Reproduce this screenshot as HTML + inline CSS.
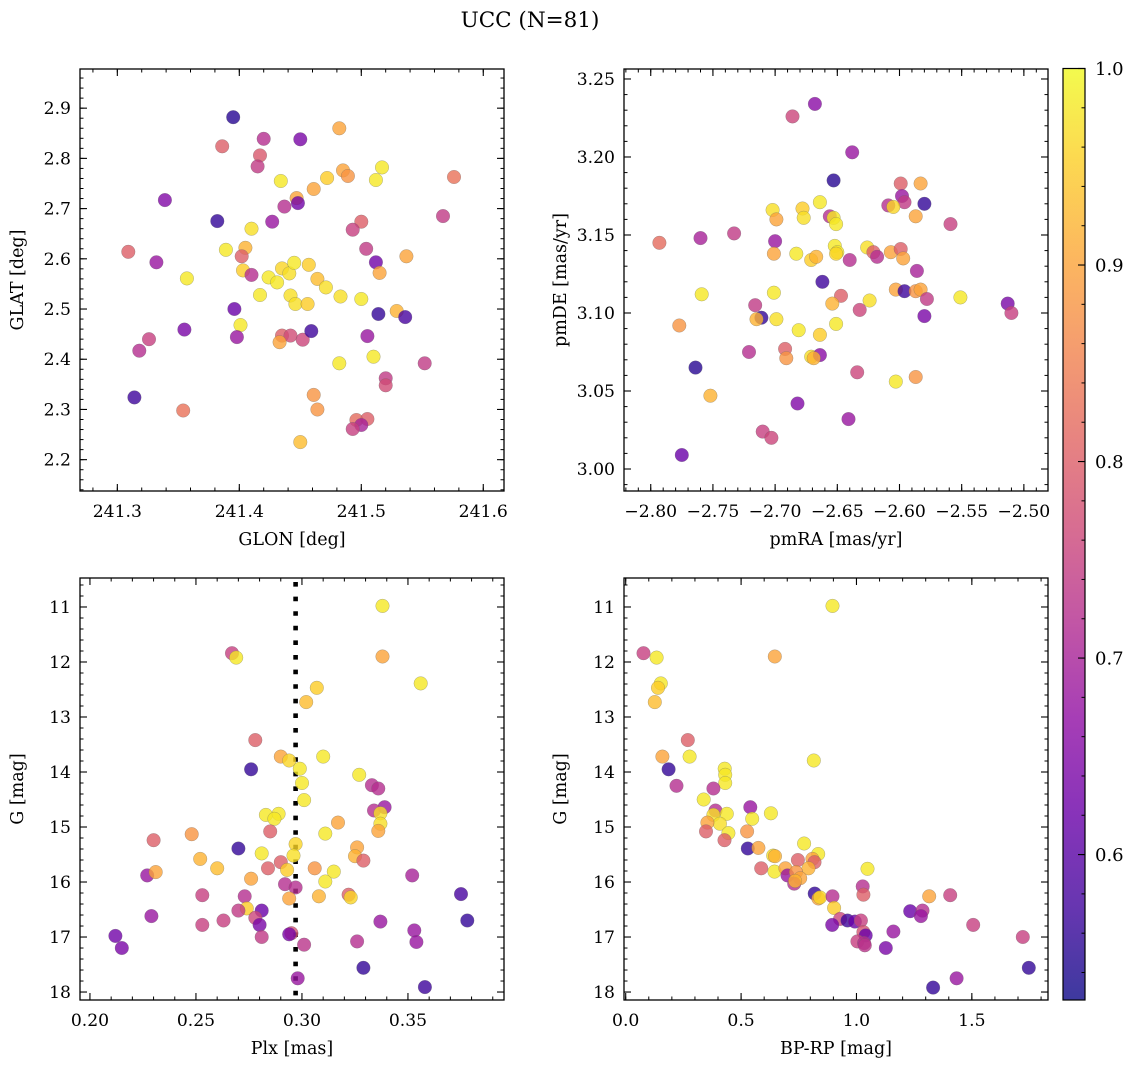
<!DOCTYPE html>
<html><head><meta charset="utf-8">
<style>
html,body{margin:0;padding:0;background:#fff;}
svg{display:block;font-family:"DejaVu Serif","Liberation Serif",serif;}
</style></head>
<body>
<svg id="fig" width="1136" height="1068" viewBox="0 0 1136 1068" xmlns="http://www.w3.org/2000/svg">
<defs>
<linearGradient id="plasma" x1="0" y1="1" x2="0" y2="0"></linearGradient>
</defs>
<text x="530" y="27" font-size="21.5" text-anchor="middle">UCC (N=81)</text>
</svg>
<script>
// ---- data: panel 1 (GLON vs GLAT)
const p1Glon = [241.395,241.482,241.420,241.450,241.386,241.417,241.415,241.517,241.485,241.489,241.576,241.434,241.472,241.512,241.461,241.339,241.447,241.448,241.437,241.382,241.427,241.567,241.500,241.493,241.410,241.309,241.389,241.405,241.402,241.504,241.537,241.332,241.512,241.515,241.403,241.410,241.357,241.424,241.431,241.435,241.441,241.445,241.457,241.464,241.471,241.417,241.442,241.446,241.456,241.483,241.500,241.396,241.514,241.529,241.536,241.355,241.401,241.398,241.326,241.318,241.435,241.442,241.433,241.452,241.459,241.505,241.482,241.510,241.552,241.520,241.520,241.314,241.354,241.461,241.464,241.496,241.505,241.500,241.493,241.450];
const p1Glat = [2.882,2.860,2.839,2.838,2.824,2.806,2.784,2.782,2.776,2.765,2.763,2.755,2.761,2.757,2.739,2.717,2.721,2.711,2.704,2.675,2.674,2.685,2.674,2.658,2.660,2.614,2.618,2.622,2.605,2.620,2.605,2.593,2.593,2.572,2.577,2.568,2.561,2.563,2.553,2.581,2.571,2.592,2.588,2.560,2.543,2.528,2.527,2.510,2.510,2.525,2.520,2.500,2.490,2.496,2.484,2.459,2.468,2.444,2.440,2.417,2.447,2.447,2.434,2.439,2.456,2.446,2.392,2.405,2.392,2.362,2.348,2.324,2.298,2.329,2.300,2.279,2.281,2.269,2.261,2.235];
const p1Prob = [.55,.9,.72,.64,.8,.79,.74,.98,.9,.88,.83,.98,.95,.98,.9,.65,.9,.63,.72,.56,.68,.74,.8,.75,.97,.8,.98,.92,.8,.74,.9,.68,.63,.9,.95,.72,.98,.98,.98,.96,.97,.98,.95,.93,.97,.98,.97,.97,.95,.97,.98,.62,.56,.92,.58,.64,.98,.68,.75,.72,.8,.77,.9,.76,.57,.68,.98,.98,.74,.74,.77,.57,.83,.88,.88,.82,.8,.7,.75,.93];
// ---- data: panel 2 (pmRA vs pmDE)
const p2PmRA = [-2.668,-2.686,-2.638,-2.653,-2.599,-2.583,-2.598,-2.596,-2.580,-2.609,-2.605,-2.664,-2.702,-2.678,-2.699,-2.677,-2.656,-2.653,-2.651,-2.587,-2.559,-2.793,-2.760,-2.733,-2.700,-2.701,-2.683,-2.671,-2.667,-2.652,-2.650,-2.651,-2.640,-2.626,-2.621,-2.618,-2.607,-2.599,-2.597,-2.586,-2.662,-2.759,-2.701,-2.647,-2.654,-2.624,-2.632,-2.603,-2.596,-2.587,-2.583,-2.578,-2.551,-2.513,-2.510,-2.580,-2.777,-2.716,-2.711,-2.715,-2.699,-2.651,-2.681,-2.664,-2.721,-2.692,-2.691,-2.671,-2.664,-2.669,-2.764,-2.634,-2.603,-2.587,-2.752,-2.682,-2.641,-2.710,-2.703,-2.775];
const p2PmDE = [3.234,3.226,3.203,3.185,3.183,3.183,3.175,3.171,3.170,3.169,3.168,3.171,3.166,3.167,3.160,3.161,3.162,3.161,3.157,3.162,3.157,3.145,3.148,3.151,3.146,3.138,3.138,3.134,3.136,3.143,3.139,3.138,3.134,3.142,3.139,3.136,3.139,3.141,3.135,3.127,3.120,3.112,3.113,3.111,3.106,3.108,3.102,3.115,3.114,3.114,3.115,3.109,3.110,3.106,3.100,3.098,3.092,3.105,3.097,3.096,3.096,3.093,3.089,3.086,3.075,3.077,3.071,3.072,3.073,3.071,3.065,3.062,3.056,3.059,3.047,3.042,3.032,3.024,3.020,3.009];
const p2Prob = [.66,.76,.68,.55,.8,.9,.68,.74,.56,.72,.96,.98,.97,.95,.9,.97,.72,.98,.98,.9,.75,.82,.7,.74,.68,.9,.98,.95,.92,.98,.98,.96,.72,.97,.8,.72,.9,.8,.9,.7,.57,.98,.98,.8,.92,.97,.76,.9,.57,.88,.9,.74,.98,.64,.75,.64,.88,.74,.56,.92,.97,.98,.98,.95,.72,.8,.88,.97,.66,.92,.55,.76,.98,.88,.92,.65,.68,.75,.76,.62];
// ---- data: panel 3 (Plx vs G)
const p3Plx = [0.338,0.267,0.269,0.338,0.356,0.307,0.302,0.278,0.290,0.294,0.310,0.276,0.299,0.300,0.301,0.327,0.333,0.336,0.339,0.334,0.337,0.337,0.336,0.283,0.289,0.287,0.285,0.317,0.311,0.230,0.248,0.270,0.252,0.260,0.281,0.297,0.296,0.290,0.284,0.293,0.326,0.325,0.329,0.306,0.315,0.311,0.227,0.231,0.276,0.352,0.292,0.297,0.294,0.308,0.322,0.323,0.375,0.253,0.273,0.274,0.281,0.270,0.278,0.280,0.229,0.253,0.263,0.378,0.337,0.281,0.295,0.294,0.301,0.353,0.354,0.326,0.212,0.215,0.329,0.298,0.358];
const p3G = [10.98,11.84,11.92,11.90,12.39,12.47,12.73,13.42,13.72,13.79,13.72,13.95,13.94,14.20,14.51,14.05,14.24,14.30,14.64,14.70,14.75,14.94,15.07,14.78,14.76,14.85,15.08,14.92,15.12,15.24,15.13,15.39,15.58,15.75,15.48,15.31,15.52,15.64,15.75,15.78,15.37,15.53,15.61,15.75,15.81,15.99,15.88,15.82,15.94,15.88,16.04,16.10,16.30,16.26,16.23,16.28,16.22,16.24,16.26,16.48,16.52,16.52,16.65,16.78,16.62,16.78,16.70,16.70,16.72,17.00,16.93,16.95,17.14,16.88,17.09,17.08,16.98,17.20,17.56,17.75,17.91];
const p3Prob = [.98,.75,.98,.9,.98,.95,.93,.8,.9,.96,.98,.56,.98,.98,.98,.98,.72,.72,.68,.72,.97,.97,.9,.98,.98,.98,.8,.9,.98,.8,.88,.56,.92,.93,.98,.96,.97,.8,.8,.95,.9,.92,.8,.88,.98,.98,.68,.9,.9,.7,.72,.72,.9,.92,.8,.96,.58,.75,.72,.95,.62,.74,.76,.64,.68,.75,.75,.56,.68,.74,.78,.64,.73,.68,.68,.72,.63,.64,.56,.68,.57];
const p3PlxRef = [0.297];
// ---- data: panel 4 (BP-RP vs G)
const p4BPRP = [0.896,0.077,0.134,0.646,0.152,0.140,0.126,0.269,0.159,0.277,0.815,0.186,0.429,0.431,0.431,0.220,0.380,0.338,0.540,0.389,0.380,0.438,0.548,0.629,0.408,0.354,0.348,0.445,0.428,0.526,0.529,0.575,0.773,0.639,0.647,0.834,0.746,0.809,0.818,0.792,0.587,0.645,1.048,0.692,0.701,0.738,0.756,0.730,0.734,1.027,1.030,0.819,0.835,0.842,0.896,0.903,1.315,1.406,1.233,1.286,1.279,0.929,0.961,0.993,1.019,0.895,1.506,1.160,1.030,1.040,1.004,1.033,1.036,1.721,1.127,1.747,1.434,1.332];
const p4G = [10.98,11.84,11.92,11.90,12.39,12.47,12.73,13.42,13.72,13.72,13.79,13.95,13.94,14.05,14.20,14.25,14.30,14.50,14.64,14.70,14.78,14.76,14.85,14.75,14.94,14.92,15.08,15.11,15.24,15.08,15.39,15.38,15.30,15.52,15.53,15.49,15.60,15.58,15.64,15.75,15.75,15.81,15.76,15.75,15.88,15.82,15.93,16.03,15.98,16.08,16.23,16.21,16.30,16.28,16.26,16.47,16.26,16.24,16.53,16.52,16.62,16.67,16.70,16.72,16.70,16.78,16.78,16.90,16.91,16.97,17.08,17.11,17.15,17.00,17.20,17.56,17.75,17.92];
const p4Prob = [.98,.75,.98,.9,.98,.95,.93,.8,.9,.98,.98,.56,.98,.98,.98,.72,.72,.98,.68,.72,.97,.98,.98,.98,.97,.9,.8,.98,.8,.88,.56,.9,.98,.97,.92,.98,.8,.9,.8,.92,.8,.98,.98,.9,.68,.88,.9,.72,.92,.72,.8,.56,.9,.96,.72,.95,.9,.75,.62,.72,.68,.76,.57,.62,.75,.64,.75,.68,.78,.62,.75,.72,.73,.75,.64,.56,.68,.56];
// ---- tick labels
const p1XTicks = [241.3,241.4,241.5,241.6];
const p1YTicks = [2.2,2.3,2.4,2.5,2.6,2.7,2.8,2.9];
const p2XTicks = [-2.80,-2.75,-2.70,-2.65,-2.60,-2.55,-2.50];
const p2YTicks = [3.00,3.05,3.10,3.15,3.20,3.25];
const p3XTicks = [0.20,0.25,0.30,0.35];
const gTicks = [11,12,13,14,15,16,17,18];
const p4XTicks = [0.0,0.5,1.0,1.5];
const cbTicks = [0.6,0.7,0.8,0.9,1.0];

const NS = "http://www.w3.org/2000/svg";
const svg = document.getElementById('fig');
const VMIN = 0.526, VMAX = 1.0;
const plasma = [[13,8,135],[65,4,157],[106,0,168],[143,13,164],[177,42,144],[204,71,120],[225,100,98],[242,132,75],[252,166,54],[252,206,37],[240,249,33]];
function cmap(t){t=Math.max(0,Math.min(1,t));const f=t*10,i=Math.min(9,Math.floor(f)),r=f-i;const a=plasma[i],b=plasma[i+1];return 'rgb('+[0,1,2].map(k=>Math.round(a[k]+(b[k]-a[k])*r)).join(',')+')';}
function mk(tag, attrs, parent){const e=document.createElementNS(NS,tag);for(const k in attrs)e.setAttribute(k,attrs[k]);(parent||svg).appendChild(e);return e;}
function fmtMinus(s){return s.replace('-','\u2212');}

const grad = document.getElementById('plasma');
for(let i=0;i<=10;i++){mk('stop',{offset:(i*10)+'%','stop-color':cmap(i/10)},grad);}

const TICKFS = 17.2, LABFS = 17.5;

function panel(cfg){
  const g = mk('g',{});
  
  
  const {x0,y0,x1,y1} = cfg.box;
  const sx = v => x0 + (v - cfg.xd[0])/(cfg.xd[1]-cfg.xd[0])*(x1-x0);
  const sy = cfg.yInv ? (v => y0 + (v - cfg.yd[0])/(cfg.yd[1]-cfg.yd[0])*(y1-y0))
                      : (v => y1 - (v - cfg.yd[0])/(cfg.yd[1]-cfg.yd[0])*(y1-y0));
  const clip = mk('clipPath',{id:'clip-'+cfg.name},g);
  mk('rect',{x:x0,y:y0,width:x1-x0,height:y1-y0},clip);
  const pts = mk('g',{'clip-path':'url(#clip-'+cfg.name+')'},g);
  
  
  if(cfg.vline){
    cfg.vline.forEach(v=>{
      const l = mk('line',{x1:sx(v),x2:sx(v),y1:y0+4,y2:y1,stroke:'#000','stroke-width':4.6,'stroke-dasharray':'4.6 10'},pts);
      
      
    });
  }
  for(let i=0;i<cfg.xs.length;i++){
    const c = mk('circle',{cx:sx(cfg.xs[i]).toFixed(1),cy:sy(cfg.ys[i]).toFixed(1),r:6.8,fill:cmap((cfg.cs[i]-VMIN)/(VMAX-VMIN)),'fill-opacity':0.8,stroke:'#666','stroke-opacity':0.5,'stroke-width':0.5},pts);
    
    
  }
  mk('rect',{x:x0,y:y0,width:x1-x0,height:y1-y0,fill:'none',stroke:'#000','stroke-width':1.3},g);
  const eps=1e-9;
  for(let v=Math.ceil(cfg.xd[0]/cfg.xMinor-eps)*cfg.xMinor; v<=cfg.xd[1]+eps; v+=cfg.xMinor){
    const X=sx(v); if(X<x0+0.5||X>x1-0.5) continue;
    mk('line',{x1:X,x2:X,y1:y1,y2:y1-3.5,stroke:'#000','stroke-width':1},g);
    mk('line',{x1:X,x2:X,y1:y0,y2:y0+3.5,stroke:'#000','stroke-width':1},g);
  }
  const ylo=Math.min(cfg.yd[0],cfg.yd[1]), yhi=Math.max(cfg.yd[0],cfg.yd[1]);
  for(let v=Math.ceil(ylo/cfg.yMinor-eps)*cfg.yMinor; v<=yhi+eps; v+=cfg.yMinor){
    const Y=sy(v); if(Y<y0+0.5||Y>y1-0.5) continue;
    mk('line',{x1:x0,x2:x0+3.5,y1:Y,y2:Y,stroke:'#000','stroke-width':1},g);
    mk('line',{x1:x1,x2:x1-3.5,y1:Y,y2:Y,stroke:'#000','stroke-width':1},g);
  }
  cfg.xTicks.forEach(v=>{
    const X=sx(v);
    mk('line',{x1:X,x2:X,y1:y1,y2:y1-7,stroke:'#000','stroke-width':1.1},g);
    mk('line',{x1:X,x2:X,y1:y0,y2:y0+7,stroke:'#000','stroke-width':1.1},g);
    const t=mk('text',{x:X,y:y1+26,'font-size':TICKFS,'text-anchor':'middle'},g);
    
    
    t.textContent=fmtMinus(v.toFixed(cfg.xDec));
  });
  cfg.yTicks.forEach(v=>{
    const Y=sy(v);
    mk('line',{x1:x0,x2:x0+7,y1:Y,y2:Y,stroke:'#000','stroke-width':1.1},g);
    mk('line',{x1:x1,x2:x1-7,y1:Y,y2:Y,stroke:'#000','stroke-width':1.1},g);
    const t=mk('text',{x:x0-9,y:Y+6,'font-size':TICKFS,'text-anchor':'end'},g);
    
    
    t.textContent=fmtMinus(v.toFixed(cfg.yDec));
  });
  const xl=mk('text',{x:(x0+x1)/2,y:y1+54,'font-size':LABFS,'text-anchor':'middle'},g);
  
  
  xl.textContent=cfg.xLabel;
  const yx=cfg.yLabelX, yy=(y0+y1)/2;
  const yl=mk('text',{x:yx,y:yy,'font-size':LABFS,'text-anchor':'middle',transform:'rotate(-90 '+yx+' '+yy+')'},g);
  
  
  yl.textContent=cfg.yLabel;
}

panel({name:'glon-glat-panel',box:{x0:80,y0:69,x1:504,y1:491},xd:[241.2694,241.617],yd:[2.1376,2.978],
  xs:p1Glon,ys:p1Glat,cs:p1Prob,xTicks:p1XTicks,yTicks:p1YTicks,xDec:1,yDec:1,xMinor:0.02,yMinor:0.02,
  xLabel:'GLON [deg]',yLabel:'GLAT [deg]',yLabelX:23});
panel({name:'pm-panel',box:{x0:624,y0:69,x1:1048,y1:491},xd:[-2.8215,-2.4806],yd:[2.9859,3.2564],
  xs:p2PmRA,ys:p2PmDE,cs:p2Prob,xTicks:p2XTicks,yTicks:p2YTicks,xDec:2,yDec:2,xMinor:0.01,yMinor:0.01,
  xLabel:'pmRA [mas/yr]',yLabel:'pmDE [mas/yr]',yLabelX:566});
panel({name:'plx-g-panel',box:{x0:80,y0:578,x1:504,y1:1000},xd:[0.1953,0.3953],yd:[10.473,18.145],yInv:true,
  xs:p3Plx,ys:p3G,cs:p3Prob,xTicks:p3XTicks,yTicks:gTicks,xDec:2,yDec:0,xMinor:0.01,yMinor:0.2,
  xLabel:'Plx [mas]',yLabel:'G [mag]',yLabelX:23,vline:p3PlxRef});
panel({name:'cmd-panel',box:{x0:624,y0:578,x1:1048,y1:1000},xd:[-0.0074,1.830],yd:[10.473,18.145],yInv:true,
  xs:p4BPRP,ys:p4G,cs:p4Prob,xTicks:p4XTicks,yTicks:gTicks,xDec:1,yDec:0,xMinor:0.1,yMinor:0.2,
  xLabel:'BP-RP [mag]',yLabel:'G [mag]',yLabelX:566});

(function(){
  const g=mk('g',{});
  
  
  const x0=1063,x1=1085,y0=68.5,y1=1000;
  const sy=v=>y1-(v-VMIN)/(VMAX-VMIN)*(y1-y0);
  mk('rect',{x:x0,y:y0,width:x1-x0,height:y1-y0,fill:'url(#plasma)','fill-opacity':0.8},g);
  mk('rect',{x:x0,y:y0,width:x1-x0,height:y1-y0,fill:'none',stroke:'#000','stroke-width':1.2},g);
  for(let v=0.54; v<1.0; v+=0.02){
    const Y=sy(v);
    mk('line',{x1:x1,x2:x1-3.5,y1:Y,y2:Y,stroke:'#000','stroke-width':1},g);
  }
  cbTicks.forEach(v=>{
    const Y=sy(v);
    mk('line',{x1:x1,x2:x1-7,y1:Y,y2:Y,stroke:'#000','stroke-width':1.1},g);
    const t=mk('text',{x:x1+10,y:Y+6.5,'font-size':18},g);
    
    
    t.textContent=v.toFixed(1);
  });
})();
</script>
</body></html>
